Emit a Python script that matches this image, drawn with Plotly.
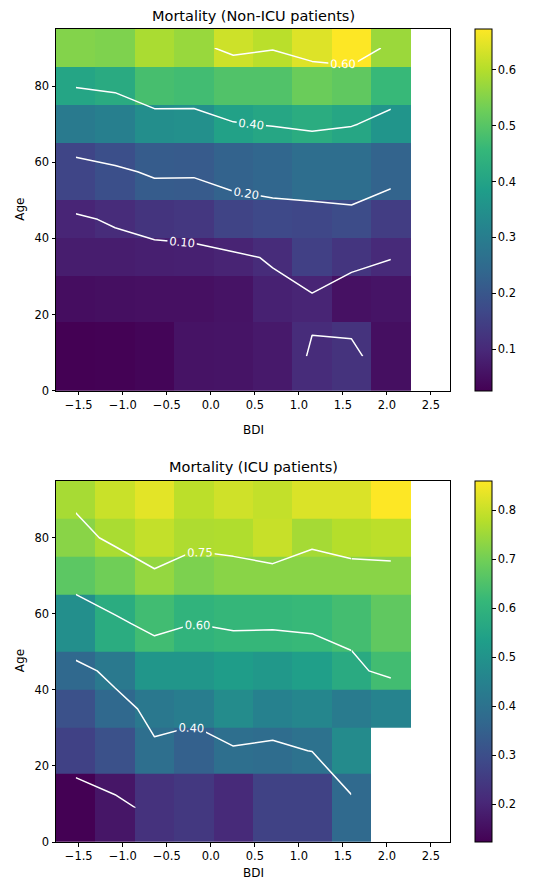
import plotly.graph_objects as go

# ---------------- data ----------------
bdi_edges = [-1.758, -1.3105, -0.863, -0.4155, 0.032, 0.4795, 0.927, 1.3745, 1.822, 2.2695, 2.717]
age_edges = [0, 18, 30, 40, 50, 65, 75, 85, 95]

# rows = age bins (bottom -> top), columns = BDI bins (left -> right); None = no data
nonicu_mortality = [
    [0.025, 0.027, 0.033, 0.058, 0.060, 0.070, 0.105, 0.120, 0.050, None],
    [0.048, 0.050, 0.052, 0.052, 0.058, 0.085, 0.0915, 0.055, 0.060, None],
    [0.077, 0.077, 0.080, 0.083, 0.090, 0.105, 0.150, 0.125, 0.102, None],
    [0.092, 0.1065, 0.123, 0.129, 0.157, 0.168, 0.164, 0.175, 0.142, None],
    [0.160, 0.184, 0.212, 0.210, 0.230, 0.239, 0.258, 0.258, 0.232, None],
    [0.291, 0.304, 0.345, 0.349, 0.394, 0.407, 0.425, 0.407, 0.362, None],
    [0.404, 0.420, 0.480, 0.473, 0.492, 0.492, 0.524, 0.511, 0.459, None],
    [0.550, 0.545, 0.590, 0.572, 0.625, 0.606, 0.641, 0.673, 0.575, None],
]
icu_mortality = [
    [0.124, 0.168, 0.230, 0.245, 0.210, 0.270, 0.270, 0.377, None, None],
    [0.268, 0.308, 0.390, 0.350, 0.390, 0.384, 0.402, 0.477, None, None],
    [0.308, 0.3735, 0.420, 0.435, 0.480, 0.448, 0.463, 0.430, 0.455, None],
    [0.374, 0.4217, 0.510, 0.510, 0.530, 0.515, 0.535, 0.573, 0.634, None],
    [0.490, 0.579, 0.632, 0.601, 0.613, 0.613, 0.618, 0.636, 0.676, None],
    [0.670, 0.698, 0.740, 0.713, 0.727, 0.727, 0.727, 0.727, 0.727, None],
    [0.727, 0.7655, 0.794, 0.770, 0.772, 0.799, 0.760, 0.778, 0.786, None],
    [0.762, 0.801, 0.830, 0.786, 0.808, 0.794, 0.820, 0.820, 0.860, None],
]

titles = ["Mortality (Non-ICU patients)", "Mortality (ICU patients)"]
nonicu_levels = [0.10, 0.20, 0.40, 0.60]
icu_levels = [0.20, 0.40, 0.60, 0.75]
x_ticks = [-1.5, -1.0, -0.5, 0.0, 0.5, 1.0, 1.5, 2.0, 2.5]
y_ticks = [0, 20, 40, 60, 80]
cbar_ticks_nonicu = [0.1, 0.2, 0.3, 0.4, 0.5, 0.6]
cbar_ticks_icu = [0.2, 0.3, 0.4, 0.5, 0.6, 0.7, 0.8]

# ---------------- derived ----------------
bdi_centers = [(a + b) / 2 for a, b in zip(bdi_edges[:-1], bdi_edges[1:])]
age_centers = [(a + b) / 2 for a, b in zip(age_edges[:-1], age_edges[1:])]


def vals(z):
    return [v for row in z for v in row if v is not None]


FONT = "DejaVu Sans"
fig = go.Figure()

# page geometry (the html body adds an 8px margin)
OFF = 8
W, H = 558 - OFF, 884 - OFF
AX_L, AX_R = 56 - OFF, 450 - OFF          # plot area, figure px
TOP_T, TOP_B = 29.3 - OFF, 390.7 - OFF
BOT_T, BOT_B = 480.7 - OFF, 841.7 - OFF
ML, MR, MT, MB = AX_L, W - AX_R, TOP_T, H - BOT_B
PH = H - MT - MB
PW = W - ML - MR


def py(y_fig):
    return (H - MB - y_fig) / PH


def px(x_fig):
    return (x_fig - ML) / PW


dom_top = [py(TOP_B), py(TOP_T)]
dom_bot = [py(BOT_B), py(BOT_T)]


def cbar(ticks, dom):
    return dict(
        x=px(475 - OFF), xanchor="left", xpad=0,
        y=dom[1], yanchor="top", ypad=0, len=dom[1] - dom[0], lenmode="fraction",
        thickness=17, outlinewidth=1, outlinecolor="black",
        tickvals=ticks, tickformat=".1f", ticks="outside", ticklen=3.5,
        tickcolor="black", tickfont=dict(family=FONT, size=11.5, color="black"),
    )


# heatmaps
fig.add_trace(go.Heatmap(
    x=bdi_edges, y=age_edges, z=nonicu_mortality, colorscale="Viridis",
    zmin=min(vals(nonicu_mortality)), zmax=max(vals(nonicu_mortality)),
    colorbar=cbar(cbar_ticks_nonicu, dom_top),
    xaxis="x", yaxis="y", hoverinfo="skip",
))
fig.add_trace(go.Heatmap(
    x=bdi_edges, y=age_edges, z=icu_mortality, colorscale="Viridis",
    zmin=min(vals(icu_mortality)), zmax=max(vals(icu_mortality)),
    colorbar=cbar(cbar_ticks_icu, dom_bot),
    xaxis="x2", yaxis="y2", hoverinfo="skip",
))


def add_contour(xs, ys, z, level, xa, ya, labels=True):
    fig.add_trace(go.Contour(
        x=xs, y=ys, z=z, autocontour=False, showscale=False,
        contours=dict(start=level, end=level, size=1, coloring="none",
                      showlabels=labels, labelformat=".2f",
                      labelfont=dict(family=FONT, size=11.5, color="white")),
        line=dict(color="white", width=1.5, smoothing=0),
        xaxis=xa, yaxis=ya, hoverinfo="skip",
    ))


# Non-ICU contours: columns with data (0..8)
z_top = [row[:9] for row in nonicu_mortality]
for lv in nonicu_levels:
    add_contour(bdi_centers[:9], age_centers, z_top, lv, "x", "y")

# ICU contours: full block cols 0..7, plus cols 7..8 where rows 2.. have data
z_botA = [row[:8] for row in icu_mortality]
z_botB = [row[7:9] for row in icu_mortality[2:]]
for lv in icu_levels:
    add_contour(bdi_centers[:8], age_centers, z_botA, lv, "x2", "y2")
    add_contour(bdi_centers[7:9], age_centers[2:], z_botB, lv, "x2", "y2", labels=False)

axis_common = dict(
    showline=True, mirror=True, linecolor="black", linewidth=1,
    ticks="outside", ticklen=3.5, tickcolor="black", showgrid=False, zeroline=False,
    tickfont=dict(family=FONT, size=11.5, color="black"),
)
xax = dict(axis_common, range=[bdi_edges[0], bdi_edges[-1]], tickvals=x_ticks, tickformat=".1f")
yax = dict(axis_common, range=[age_edges[0], age_edges[-1]], tickvals=y_ticks)

ann = []
for t, yc in zip(titles, [16, 467]):
    ann.append(dict(text=t, x=0.5, xref="paper", y=py(yc - OFF), yref="paper",
                    showarrow=False, yanchor="middle",
                    font=dict(family=FONT, size=14.5, color="black")))
for yc in [430, 873]:
    ann.append(dict(text="BDI", x=0.5, xref="paper", y=py(yc - OFF), yref="paper",
                    showarrow=False, yanchor="middle",
                    font=dict(family=FONT, size=12, color="black")))
for yc in [210, 661]:
    ann.append(dict(text="Age", x=px(20 - OFF), xref="paper",
                    y=py(yc - OFF), yref="paper", textangle=-90,
                    showarrow=False, xanchor="center", yanchor="middle",
                    font=dict(family=FONT, size=12, color="black")))

fig.update_layout(
    width=W, height=H, margin=dict(l=ML, r=MR, t=MT, b=MB),
    paper_bgcolor="white", plot_bgcolor="white",
    font=dict(family=FONT, color="black"),
    xaxis=dict(xax, domain=[0, 1], anchor="y"),
    yaxis=dict(yax, domain=dom_top, anchor="x"),
    xaxis2=dict(xax, domain=[0, 1], anchor="y2"),
    yaxis2=dict(yax, domain=dom_bot, anchor="x2"),
    annotations=ann, showlegend=False,
)

fig.write_html("out.html")
